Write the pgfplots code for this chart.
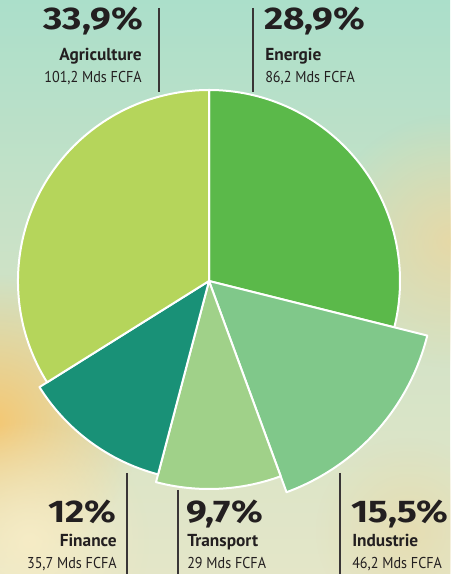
\documentclass[border=0pt]{standalone}
\usepackage{pgfplots}
\pgfplotsset{compat=1.18}
\usepackage{pgfplotstable}
\usetikzlibrary{fadings}
\usepackage{fontspec}
\setmainfont{PT Sans}
\newfontfamily\pcfont{Fira Sans}

\definecolor{cAgr}{HTML}{B5D55B}
\definecolor{cEne}{HTML}{5BB94A}
\definecolor{cInd}{HTML}{80C88A}
\definecolor{cTra}{HTML}{A0D189}
\definecolor{cFin}{HTML}{199177}
\definecolor{cText}{HTML}{231F20}
\definecolor{bgTop}{HTML}{ABDFCA}
\definecolor{bgMid}{HTML}{CFE2C6}
\definecolor{bgBot}{HTML}{E4E6C8}
\definecolor{blobOr}{HTML}{F4C874}
\definecolor{blobYe}{HTML}{E9D8A4}
\definecolor{blobCr}{HTML}{F6ECC6}

\tikzfading[name=softblob, inner color=transparent!0, outer color=transparent!100]

\newcommand{\pc}[1]{\scalebox{1.18}[1]{#1}}
\newcommand{\vl}[1]{\scalebox{0.9}[1]{#1}}

\pgfplotstableread{
name pct val r col
Energie 28.9 86.2 191 cEne
Industrie 15.5 46.2 225 cInd
Transport 9.7 29 208 cTra
Finance 12 35.7 200 cFin
Agriculture 33.9 101.2 191 cAgr
}\piedata
\pgfplotstablecreatecol[create col/expr accum={\pgfmathaccuma+\thisrow{pct}}{0}]{cum}\piedata

\begin{document}
\begin{tikzpicture}
\begin{axis}[x=0.75pt, y=0.75pt, xmin=-209, xmax=241, ymin=-293, ymax=281,
  hide axis, clip=false, scale only axis]
\pgfplotsextra{
  % background
  \shade[top color=bgTop, bottom color=bgBot, middle color=bgMid]
     (axis cs:-209,-293) rectangle (axis cs:241,281);
  \fill[blobYe, path fading=softblob, opacity=0.9] (axis cs:241,40) circle[radius=95pt];
  \fill[blobOr, path fading=softblob] (axis cs:-215,-140) circle[radius=110pt];
  \fill[blobCr, path fading=softblob] (axis cs:-180,-260) circle[radius=90pt];
  \fill[blobYe, path fading=softblob, opacity=0.6] (axis cs:200,-250) circle[radius=70pt];
  % pie wedges
  \pgfplotstablegetrowsof{\piedata}\pgfmathtruncatemacro\nrows{\pgfplotsretval-1}
  \foreach \i in {0,...,\nrows}{
    \pgfplotstablegetelem{\i}{pct}\of\piedata\let\pv\pgfplotsretval
    \pgfplotstablegetelem{\i}{cum}\of\piedata\let\cumv\pgfplotsretval
    \pgfplotstablegetelem{\i}{r}\of\piedata\let\radv\pgfplotsretval
    \pgfplotstablegetelem{\i}{col}\of\piedata\let\colv\pgfplotsretval
    \pgfmathsetmacro\aS{90-3.6*(\cumv-\pv)}
    \pgfmathsetmacro\aE{90-3.6*\cumv}
    \fill[color=\colv, draw=white, line width=1.5pt, line join=round]
      (axis cs:0,0) -- (axis cs:{\radv*cos(\aS)},{\radv*sin(\aS)})
      arc[start angle=\aS, end angle=\aE, radius=\radv*0.75pt] -- cycle;
  }
  % leader lines
  \draw[cText!90, line width=1.1pt] (axis cs:-50,273) -- (axis cs:-50,189);
  \draw[cText!90, line width=1.1pt] (axis cs:44,273) -- (axis cs:44,189);
  \draw[cText!90, line width=1.1pt] (axis cs:-82,-192) -- (axis cs:-82,-293);
  \draw[cText!90, line width=1.1pt] (axis cs:-31,-209) -- (axis cs:-31,-293);
  \draw[cText!90, line width=1.1pt] (axis cs:131,-192) -- (axis cs:131,-293);
  % labels
  \tikzset{pcs/.style={inner sep=0pt, text=cText, font=\pcfont\fontsize{23.5}{23.5}\selectfont\bfseries},
           nm/.style={inner sep=0pt, text=cText, font=\fontsize{13}{13}\selectfont\bfseries},
           vls/.style={inner sep=0pt, text=cText, font=\fontsize{11.8}{11.8}\selectfont}}
  \node[pcs, anchor=base east] at (axis cs:-66,251) {\pc{33,9\%}};
  \node[nm, anchor=base east] at (axis cs:-67,220) {Agriculture};
  \node[vls, anchor=base east] at (axis cs:-67,198) {\vl{101,2 Mds FCFA}};
  \node[pcs, anchor=base west] at (axis cs:55,251) {\pc{28,9\%}};
  \node[nm, anchor=base west] at (axis cs:56,220) {Energie};
  \node[vls, anchor=base west] at (axis cs:56,198) {\vl{86,2 Mds FCFA}};
  \node[pcs, anchor=base east] at (axis cs:-92,-242) {\pc{12\%}};
  \node[nm, anchor=base east] at (axis cs:-92,-266) {Finance};
  \node[vls, anchor=base east] at (axis cs:-92,-287) {\vl{35,7 Mds FCFA}};
  \node[pcs, anchor=base west] at (axis cs:-23,-242) {\pc{9,7\%}};
  \node[nm, anchor=base west] at (axis cs:-22,-266) {Transport};
  \node[vls, anchor=base west] at (axis cs:-22,-287) {\vl{29 Mds FCFA}};
  \node[pcs, anchor=base west] at (axis cs:142,-242) {\pc{15,5\%}};
  \node[nm, anchor=base west] at (axis cs:143,-266) {Industrie};
  \node[vls, anchor=base west] at (axis cs:143,-287) {\vl{46,2 Mds FCFA}};
  \coordinate (bbl) at (axis cs:-209,-293);
  \coordinate (btr) at (axis cs:241,281);
}
\end{axis}
\pgfresetboundingbox
\path[use as bounding box] (bbl) rectangle (btr);
\end{tikzpicture}
\end{document}
